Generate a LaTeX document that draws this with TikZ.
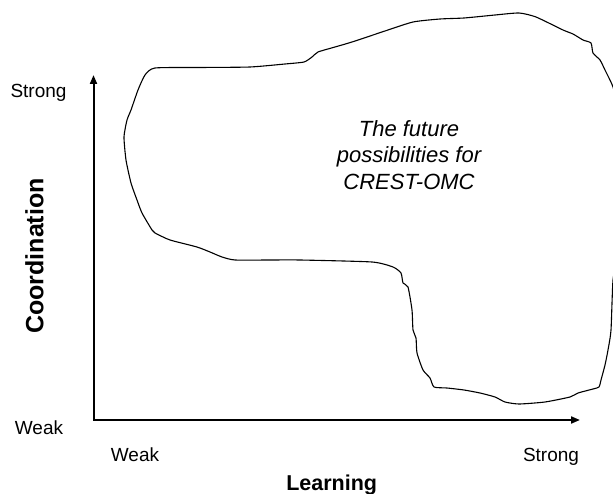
\documentclass[tikz,border=0pt]{standalone}
\usepackage{fontspec}
\setmainfont{Liberation Sans}
\usetikzlibrary{arrows.meta}
\begin{document}
\begin{tikzpicture}[x=1pt,y=-1pt,
  axis/.style={line width=2pt,{Triangle[length=9pt,width=7pt]}-{Triangle[length=9pt,width=7pt]}},
  blob/.style={line width=1.1pt,line join=round},
  lbl/.style={font=\fontsize{19}{22}\selectfont,anchor=base,inner sep=0pt},
  title/.style={font=\bfseries\fontsize{21.5}{25}\selectfont,anchor=base,inner sep=0pt},
  inside/.style={font=\itshape\fontsize{22}{26.5}\selectfont,align=center,inner sep=0pt}]
\useasboundingbox (0,0) rectangle (613,494);
\coordinate (ytip) at (93.5,75);
\coordinate (xtip) at (580,420);
\draw[axis] (ytip) |- (xtip);
\draw[blob] plot[smooth cycle,tension=0.35] coordinates {
(155,68) (200,67.5) (250,67) (285,64) (304,62) (312,57) (318,52) (335,47) (352,42) (385,31) (413,22) (440,19) (464,18) (495,15) (519,13) (536,17) (563,30) (573,34) (583,40) (591,43) (593,53) (600,60) (605,70) (613,87) (618,110) (620,180) (618,250) (613,280) (611,330) (608,350) (605,365) (601,380) (599,387) (593,389) (578,393) (570,397) (545,402) (519,404) (505,402) (495,397) (480,393) (464,390) (447,388) (434,387) (430,378) (423,370) (417,353) (416,338) (413,330) (412,310) (408,287) (403,283) (401,273) (393,267) (372,262) (300,260) (270,260) (235,260) (222,257) (210,252) (197,247) (170,240) (155,233) (152,230) (142,213) (137,200) (131,183) (126,160) (124,137) (127,120) (131,110) (138,90) (145,75)};
\node[inside] (txt) at (409,155) {The future\\possibilities for\\CREST-OMC};
\node[lbl] (ys) at (38.5,98) {Strong};
\node[lbl] (yw) at (39,434) {Weak};
\node[lbl] (xw) at (135,461.7) {Weak};
\node[lbl] (xs) at (551,461.7) {Strong};
\node[title] (xl) at (331.7,490) {Learning};
\node[title,font=\bfseries\fontsize{25}{28}\selectfont,rotate=90] (yl) at (43.3,256) {Coordination};
\end{tikzpicture}
\end{document}
